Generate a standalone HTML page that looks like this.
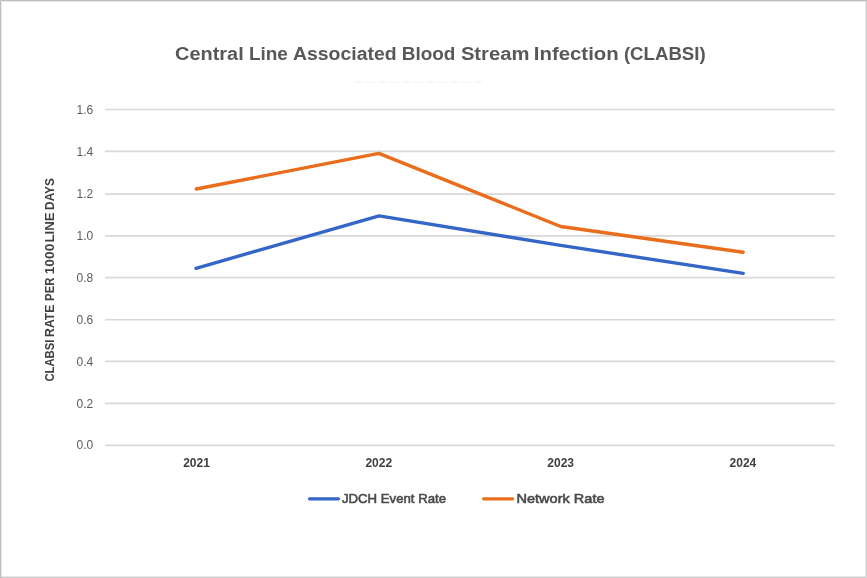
<!DOCTYPE html>
<html><head><meta charset="utf-8">
<style>
html,body{margin:0;padding:0;background:#fff;}
body{width:867px;height:578px;overflow:hidden;font-family:"Liberation Sans",sans-serif;}
svg{display:block;filter:blur(0.35px);}
</style></head>
<body>
<svg width="867" height="578" viewBox="0 0 867 578" font-family="'Liberation Sans', sans-serif">
<rect x="0" y="0" width="867" height="578" fill="#fff"/>
<g fill="none" stroke-width="1">
<path d="M2.5,576 V2.5 H865" stroke="#fcfcfc"/>
<path d="M1.5,577 V1.5 H866" stroke="#ebebeb"/>
<path d="M865.5,1 V576.5 H1" stroke="#eaeaea"/>
<path d="M866.5,0 V577.5 H0" stroke="#c9c9c9"/>
<path d="M0.5,578 V0.5 H867" stroke="#bdbdbd"/>
</g>
<!-- title -->
<g font-size="17.6" font-weight="bold" fill="#585858">
<text x="175.1" y="59.6" textLength="68.6" lengthAdjust="spacingAndGlyphs">Central</text>
<text x="248.9" y="59.6" textLength="39.0" lengthAdjust="spacingAndGlyphs">Line</text>
<text x="293.0" y="59.6" textLength="103.6" lengthAdjust="spacingAndGlyphs">Associated</text>
<text x="401.7" y="59.6" textLength="53.7" lengthAdjust="spacingAndGlyphs">Blood</text>
<text x="460.9" y="59.6" textLength="68.5" lengthAdjust="spacingAndGlyphs">Stream</text>
<text x="533.8" y="59.6" textLength="84.9" lengthAdjust="spacingAndGlyphs">Infection</text>
<text x="623.9" y="59.6" textLength="81.8" lengthAdjust="spacingAndGlyphs">(CLABSI)</text>
</g>
<line x1="355" y1="82" x2="482" y2="82" stroke="#f5f5f5" stroke-width="1.5" stroke-dasharray="8,4"/>
<!-- gridlines -->
<g stroke="#d9d9d9" stroke-width="1.6">
<line x1="105" y1="109.5" x2="835" y2="109.5"/>
<line x1="105" y1="151.4" x2="835" y2="151.4"/>
<line x1="105" y1="194.1" x2="835" y2="194.1"/>
<line x1="105" y1="235.9" x2="835" y2="235.9"/>
<line x1="105" y1="277.6" x2="835" y2="277.6"/>
<line x1="105" y1="319.7" x2="835" y2="319.7"/>
<line x1="105" y1="361.4" x2="835" y2="361.4"/>
<line x1="105" y1="403.4" x2="835" y2="403.4"/>
<line x1="105" y1="445.4" x2="835" y2="445.4"/>
</g>
<!-- y tick labels -->
<g font-size="12.4" fill="#5c5c5c" text-anchor="end" transform="translate(93.3,0) scale(0.97,1)">
<text x="0" y="113.7">1.6</text>
<text x="0" y="155.7">1.4</text>
<text x="0" y="197.7">1.2</text>
<text x="0" y="239.6">1.0</text>
<text x="0" y="281.6">0.8</text>
<text x="0" y="323.6">0.6</text>
<text x="0" y="365.6">0.4</text>
<text x="0" y="407.6">0.2</text>
<text x="0" y="449.5">0.0</text>
</g>
<!-- x labels -->
<g font-size="12" font-weight="bold" fill="#404040" text-anchor="middle">
<text x="196.5" y="466.5">2021</text>
<text x="378.8" y="466.5">2022</text>
<text x="560.7" y="466.5">2023</text>
<text x="742.9" y="466.5">2024</text>
</g>
<!-- y axis title -->
<g transform="translate(54.2,0) rotate(-90)" font-size="13" font-weight="bold" fill="#404040">
<text x="-381.6" y="0" textLength="42.0" lengthAdjust="spacingAndGlyphs">CLABSI</text>
<text x="-336.9" y="0" textLength="32.3" lengthAdjust="spacingAndGlyphs">RATE</text>
<text x="-300.9" y="0" textLength="23.3" lengthAdjust="spacingAndGlyphs">PER</text>
<text x="-274.3" y="0" textLength="30.6" lengthAdjust="spacingAndGlyphs">1000</text>
<text x="-242.6" y="0" textLength="30.1" lengthAdjust="spacingAndGlyphs">LINE</text>
<text x="-209.9" y="0" textLength="31.7" lengthAdjust="spacingAndGlyphs">DAYS</text>
</g>
<!-- series -->
<polyline points="196.3,189 378.9,153.3 560.7,226.5 743.2,252.3" fill="none" stroke="#E96D1C" stroke-width="3.4" stroke-linecap="round" stroke-linejoin="round"/>
<polyline points="196.0,268.3 379.1,215.9 560.7,245.4 743.2,273.4" fill="none" stroke="#3366C6" stroke-width="3.4" stroke-linecap="round" stroke-linejoin="round"/>
<!-- legend -->
<line x1="309.5" y1="498.85" x2="338.5" y2="498.85" stroke="#3366C6" stroke-width="3.2" stroke-linecap="round"/>
<text x="342" y="503.4" font-size="13.5" fill="#4a4a4a" stroke="#4a4a4a" stroke-width="0.6" textLength="104" lengthAdjust="spacingAndGlyphs">JDCH Event Rate</text>
<line x1="483.6" y1="498.85" x2="512.6" y2="498.85" stroke="#E96D1C" stroke-width="3.2" stroke-linecap="round"/>
<text x="516.5" y="503.4" font-size="13.5" fill="#4a4a4a" stroke="#4a4a4a" stroke-width="0.6" textLength="88" lengthAdjust="spacingAndGlyphs">Network Rate</text>
</svg>
</body></html>
